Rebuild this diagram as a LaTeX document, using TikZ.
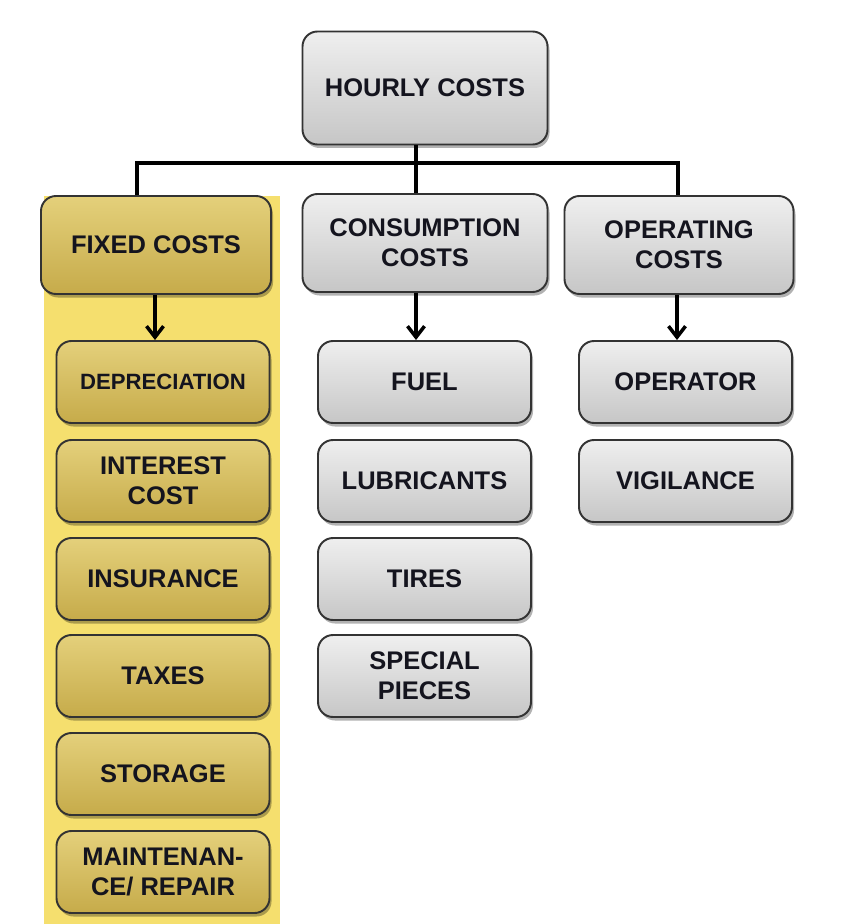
\documentclass[tikz,border=0pt]{standalone}
\usepackage{fontspec}
\setmainfont{Liberation Sans}
\usetikzlibrary{arrows.meta, shadows}
\definecolor{bandyellow}{HTML}{F5DF6E}
\definecolor{greytop}{HTML}{EFEFEF}
\definecolor{greybot}{HTML}{C6C6C6}
\definecolor{goldtop}{HTML}{E4D07B}
\definecolor{goldbot}{HTML}{C6AB4A}
\definecolor{inktext}{HTML}{14141E}
\tikzset{
    box/.style={rectangle, rounded corners=0.3cm, draw=black!80, line width=1.1pt, align=center,
        inner sep=0pt, text=inktext, font=\fontsize{14.5}{17}\selectfont\bfseries,
        drop shadow={shadow xshift=0.04cm, shadow yshift=-0.07cm, opacity=0.3, fill=black}},
    greybox/.style={box, top color=greytop, bottom color=greybot},
    goldbox/.style={box, top color=goldtop, bottom color=goldbot},
    head/.style={minimum width=4.9cm, minimum height=1.96cm},
    leaf/.style={minimum width=4.26cm, minimum height=1.64cm},
    link/.style={line width=2pt, black},
    arr/.style={link, -{Straight Barb[length=2.2mm, width=3.4mm]}},
}

\begin{document}
\begin{tikzpicture}
\useasboundingbox (0,0) rectangle (16.84,-18.48);

% Highlight band behind the fixed costs column
\fill[bandyellow] (0.88,-3.92) rectangle (5.60,-18.48);

% Root
\node[greybox, minimum width=4.9cm, minimum height=2.26cm] (hourly) at (8.50,-1.76) {HOURLY COSTS};

% ── Cost groups ──
\node[goldbox, head, minimum width=4.6cm] (fixed) at (3.12,-4.90) {FIXED COSTS};
\node[greybox, head] (consump) at (8.50,-4.86) {CONSUMPTION\\COSTS};
\node[greybox, head, minimum width=4.58cm] (operat) at (13.58,-4.90) {OPERATING\\COSTS};

% ── Fixed costs ──
\node[goldbox, leaf, font=\fontsize{12.6}{15}\selectfont\bfseries] (dep) at (3.26,-7.64) {DEPRECIATION};
\node[goldbox, leaf] (interest) at (3.26,-9.62) {INTEREST\\COST};
\node[goldbox, leaf] (insur) at (3.26,-11.58) {INSURANCE};
\node[goldbox, leaf] (taxes) at (3.26,-13.52) {TAXES};
\node[goldbox, leaf] (storage) at (3.26,-15.48) {STORAGE};
\node[goldbox, leaf] (maint) at (3.26,-17.44) {MAINTENAN-\\CE/ REPAIR};

% ── Consumption costs ──
\node[greybox, leaf] (fuel) at (8.49,-7.64) {FUEL};
\node[greybox, leaf] (lubric) at (8.49,-9.62) {LUBRICANTS};
\node[greybox, leaf] (tires) at (8.49,-11.58) {TIRES};
\node[greybox, leaf] (special) at (8.49,-13.52) {SPECIAL\\PIECES};

% ── Operating costs ──
\node[greybox, leaf] (operator) at (13.71,-7.64) {OPERATOR};
\node[greybox, leaf] (vigil) at (13.71,-9.62) {VIGILANCE};

% Connectors
\coordinate (bus) at (8.32,-3.26);
\draw[link] (hourly.south -| bus) -- (consump.north -| bus);
\draw[link] ([xshift=-0.38cm]fixed.north) |- (bus) -| ([xshift=-0.02cm]operat.north);

\draw[arr] ([xshift=-0.02cm]fixed.south) -- ([xshift=-0.02cm]fixed.south |- dep.north);
\draw[arr] (consump.south -| bus) -- (fuel.north -| bus);
\draw[arr] ([xshift=-0.04cm]operat.south) -- ([xshift=-0.04cm]operat.south |- operator.north);

\end{tikzpicture}
\end{document}
